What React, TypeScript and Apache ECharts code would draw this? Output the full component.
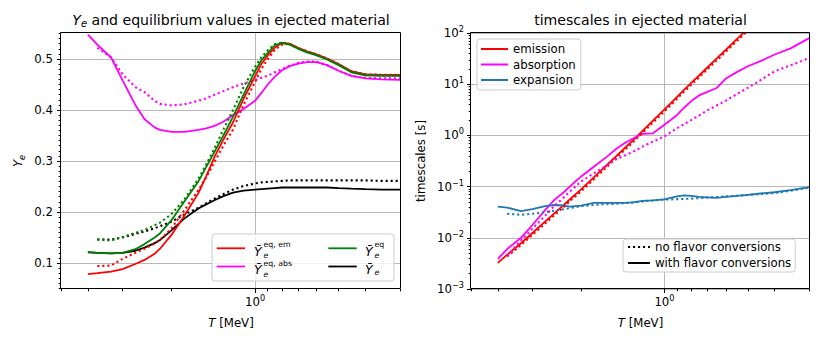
import React, { useEffect, useRef } from 'react';
import * as echarts from 'echarts';

// ---------------- data ----------------
// temperature grid (MeV), shared by all curves
const T = [4.0, 3.7, 3.3, 3.0, 2.7, 2.5, 2.3, 2.2, 2.0, 1.8, 1.6, 1.5, 1.4, 1.3, 1.2, 1.1, 1.0, 0.95, 0.9, 0.85, 0.8, 0.75, 0.7, 0.65, 0.6, 0.55, 0.5, 0.45, 0.4, 0.35, 0.3];

// left panel: Ye and equilibrium values (solid = with flavor conversions, dotted = without)
const yeEqEmWith = [0.078, 0.080, 0.083, 0.088, 0.098, 0.106, 0.118, 0.128, 0.155, 0.192, 0.237, 0.270, 0.308, 0.342, 0.376, 0.422, 0.466, 0.490, 0.507, 0.522, 0.532, 0.530, 0.522, 0.515, 0.509, 0.501, 0.490, 0.476, 0.470, 0.469, 0.469];
const yeEqEmNo = [null, 0.094, 0.095, 0.108, 0.120, 0.128, 0.138, 0.145, 0.168, 0.203, 0.243, 0.268, 0.298, 0.330, 0.362, 0.410, 0.455, 0.480, 0.500, 0.518, 0.528, 0.530, 0.522, 0.515, 0.509, 0.501, 0.490, 0.476, 0.470, 0.469, 0.469];
const yeEqAbsWith = [0.548, 0.528, 0.503, 0.458, 0.410, 0.382, 0.366, 0.361, 0.357, 0.357, 0.361, 0.364, 0.369, 0.377, 0.390, 0.402, 0.418, 0.433, 0.450, 0.465, 0.478, 0.486, 0.491, 0.494, 0.494, 0.488, 0.477, 0.467, 0.462, 0.460, 0.459];
const yeEqAbsNo = [null, 0.522, 0.503, 0.470, 0.445, 0.435, 0.418, 0.412, 0.409, 0.411, 0.418, 0.423, 0.430, 0.437, 0.445, 0.452, 0.459, 0.463, 0.467, 0.474, 0.480, 0.487, 0.492, 0.495, 0.495, 0.488, 0.477, 0.467, 0.463, 0.462, 0.462];
const yeEqWith = [0.122, 0.120, 0.119, 0.120, 0.127, 0.137, 0.150, 0.158, 0.184, 0.220, 0.260, 0.288, 0.318, 0.350, 0.387, 0.430, 0.476, 0.497, 0.512, 0.527, 0.531, 0.528, 0.520, 0.513, 0.507, 0.499, 0.488, 0.474, 0.468, 0.467, 0.467];
const yeEqNo = [null, 0.146, 0.144, 0.151, 0.159, 0.165, 0.174, 0.179, 0.196, 0.224, 0.265, 0.293, 0.325, 0.362, 0.400, 0.445, 0.485, 0.503, 0.517, 0.529, 0.532, 0.529, 0.521, 0.514, 0.508, 0.500, 0.489, 0.475, 0.469, 0.468, 0.467];
const yeWith = [0.121, 0.120, 0.119, 0.120, 0.124, 0.130, 0.139, 0.145, 0.164, 0.187, 0.207, 0.215, 0.223, 0.231, 0.238, 0.242, 0.244, 0.245, 0.246, 0.247, 0.248, 0.248, 0.248, 0.248, 0.248, 0.248, 0.247, 0.246, 0.245, 0.244, 0.244];
const yeNo = [null, 0.146, 0.146, 0.150, 0.157, 0.162, 0.168, 0.172, 0.181, 0.195, 0.208, 0.217, 0.226, 0.235, 0.244, 0.251, 0.256, 0.258, 0.259, 0.260, 0.261, 0.262, 0.262, 0.262, 0.262, 0.262, 0.262, 0.262, 0.262, 0.261, 0.261];

// right panel: timescales [s]
const emissionWith = [0.00324, 0.00468, 0.00783, 0.0124, 0.0207, 0.0299, 0.0447, 0.0559, 0.0883, 0.151, 0.276, 0.385, 0.548, 0.800, 1.22, 1.95, 3.22, 4.23, 5.68, 7.73, 10.6, 14.8, 21.2, 31.1, 47.1, 74.1, 120, 209, null, null, null];
const emissionNo = [null, 0.0043, 0.0072, 0.0114, 0.019, 0.0275, 0.041, 0.0515, 0.081, 0.139, 0.254, 0.354, 0.505, 0.736, 1.12, 1.79, 2.96, 3.89, 5.22, 7.11, 9.77, 13.6, 19.5, 28.6, 43.3, 68.2, 111, 200, null, null, null];
const absorptionWith = [0.00389, 0.00603, 0.0100, 0.0178, 0.0347, 0.0550, 0.0794, 0.100, 0.158, 0.245, 0.398, 0.537, 0.692, 0.871, 1.07, 1.10, 1.62, 2.00, 2.51, 3.47, 4.68, 6.03, 7.08, 8.32, 12.9, 17.0, 22.4, 28.2, 38.0, 50.1, 79.4];
const absorptionNo = [null, 0.00447, 0.0089, 0.0151, 0.0269, 0.0417, 0.063, 0.0794, 0.126, 0.182, 0.263, 0.339, 0.398, 0.479, 0.603, 0.759, 0.955, 1.15, 1.38, 1.66, 2.00, 2.45, 3.09, 3.80, 4.79, 6.31, 8.51, 12.0, 17.8, 23.4, 32.4];
const expansionWith = [0.0407, 0.0389, 0.0331, 0.0363, 0.0417, 0.0437, 0.0427, 0.0407, 0.0427, 0.0479, 0.0479, 0.0479, 0.0479, 0.049, 0.0525, 0.0537, 0.0562, 0.0603, 0.0646, 0.0676, 0.0661, 0.0631, 0.0617, 0.0603, 0.0631, 0.0661, 0.0692, 0.0733, 0.0776, 0.0851, 0.0977];
const expansionNo = [null, 0.0295, 0.0282, 0.0295, 0.0316, 0.0339, 0.0363, 0.038, 0.0417, 0.0437, 0.0457, 0.0462, 0.0473, 0.049, 0.0513, 0.0537, 0.0562, 0.0562, 0.0569, 0.0575, 0.0582, 0.0596, 0.061, 0.0624, 0.0646, 0.0661, 0.0684, 0.0716, 0.075, 0.0832, 0.0955];

// axis ranges and ticks
const T_MIN = 0.298;
const T_MAX = 5;
const YE_MIN = 0.049;
const YE_MAX = 0.551;
const TAU_MIN = 0.001;
const TAU_MAX = 100;
const xMajorTicks = [1];
const xMinorTicks = [0.3, 0.4, 0.5, 0.6, 0.7, 0.8, 0.9, 2, 3, 4, 5];
const yeMajorTicks = [0.1, 0.2, 0.3, 0.4, 0.5];
const tauMajorTicks = [0.001, 0.01, 0.1, 1, 10, 100];

const titleLeft = '{i|Y}{s|e} and equilibrium values in ejected material';
const titleRight = 'timescales in ejected material';
const legendRight = ['emission', 'absorption', 'expansion'];
const legendStyle = ['no flavor conversions', 'with flavor conversions'];

// ---------------- styles ----------------
const FONT = 'DejaVu Sans';
const FS = 11.75;
const RED = '#ff0000';
const MAGENTA = '#ff00ff';
const GREEN = '#008000';
const BLACK = '#000000';
const BLUE = '#1f77b4';
const GRIDC = '#b0b0b0';
const LW = 1.8;
const DOT_LW = 2.1;
const DOT: number[] = [2.1, 2.9];

const G0 = { left: 61, top: 33, width: 340, height: 256 };
const G1 = { left: 471, top: 33, width: 339, height: 256 };

const tickLine = { color: '#000', width: 1 };
const supRich = {
  b: { fontSize: FS, fontFamily: FONT, color: '#000', lineHeight: 16 },
  sup: { fontSize: 8.2, fontFamily: FONT, color: '#000', lineHeight: 8, verticalAlign: 'top' },
};
const expLabel = (v: number) => {
  const e = Math.round(v);
  const s = e < 0 ? '\u2212' + String(-e) : String(e);
  return '{b|10}{sup|' + s + '}';
};
const nameStyle = {
  fontFamily: FONT,
  fontSize: FS,
  color: '#000',
  lineHeight: 16,
  rich: {
    i: { fontFamily: FONT, fontSize: FS, fontStyle: 'italic', color: '#000', lineHeight: 16 },
    s: { fontFamily: FONT, fontSize: 8.2, fontStyle: 'italic', color: '#000', lineHeight: 9, verticalAlign: 'bottom' },
  },
};

const pairs = (xs: number[], ys: (number | null)[]) => xs.map((x, i) => [x, ys[i]]);

function lineSeries(name: string, ys: (number | null)[], color: string, dotted: boolean, xi: number, yi: number) {
  return {
    name,
    type: 'line',
    xAxisIndex: xi,
    yAxisIndex: yi,
    data: pairs(T, ys),
    symbol: 'none',
    showSymbol: false,
    color,
    lineStyle: { color, width: dotted ? DOT_LW : LW, type: dotted ? DOT : 'solid', cap: 'butt' },
    emphasis: { disabled: true },
    silent: true,
  };
}

function logXAxes(gridIndex: number) {
  const l0 = Math.log10(T_MIN);
  const l1 = Math.log10(T_MAX);
  return [
    { type: 'log', gridIndex, min: T_MIN, max: T_MAX, inverse: true, show: false, axisLine: { onZero: false } },
    {
      type: 'value', gridIndex, position: 'bottom', min: l0, max: l1, inverse: true,
      axisLine: { show: false, onZero: false },
      axisTick: { show: true, customValues: xMajorTicks.map(Math.log10), length: 4, lineStyle: tickLine },
      axisLabel: { show: true, customValues: xMajorTicks.map(Math.log10), formatter: expLabel, margin: 5, rich: supRich },
      splitLine: { show: true, lineStyle: { color: GRIDC, width: 0.9 } },
      name: '{i|T} [MeV]', nameLocation: 'middle', nameGap: 26, nameTextStyle: nameStyle,
    },
    {
      type: 'value', gridIndex, position: 'bottom', min: l0, max: l1, inverse: true,
      axisLine: { show: false, onZero: false },
      axisTick: { show: true, customValues: xMinorTicks.map(Math.log10), length: 2.3, lineStyle: tickLine },
      axisLabel: { show: false },
      splitLine: { show: false },
    },
  ];
}

function buildOption() {
  const yeMinor: number[] = [];
  for (let k = Math.ceil(YE_MIN * 100); k <= Math.floor(YE_MAX * 100); k++) {
    if (k % 10 !== 0) yeMinor.push(k / 100);
  }
  const tauMinor: number[] = [];
  for (let e = Math.log10(TAU_MIN); e < Math.log10(TAU_MAX); e++) {
    for (let m = 2; m <= 9; m++) tauMinor.push(Math.log10(m) + e);
  }

  const xAxes = [...logXAxes(0), ...logXAxes(1)];
  const yAxes = [
    {
      type: 'value', gridIndex: 0, position: 'left', min: YE_MIN, max: YE_MAX,
      axisLine: { show: false, onZero: false },
      axisTick: { show: true, customValues: yeMajorTicks, length: 4, lineStyle: tickLine },
      axisLabel: { show: true, customValues: yeMajorTicks, formatter: (v: number) => v.toFixed(1), margin: 8, fontFamily: FONT, fontSize: FS, color: '#000' },
      splitLine: { show: true, lineStyle: { color: GRIDC, width: 0.9 } },
      name: '{i|Y}{s|e}', nameLocation: 'middle', nameRotate: 90, nameGap: 35, nameTextStyle: nameStyle,
    },
    {
      type: 'value', gridIndex: 0, position: 'left', min: YE_MIN, max: YE_MAX,
      axisLine: { show: false, onZero: false },
      axisTick: { show: true, customValues: yeMinor, length: 2.3, lineStyle: tickLine },
      axisLabel: { show: false }, splitLine: { show: false },
    },
    { type: 'log', gridIndex: 1, position: 'left', min: TAU_MIN, max: TAU_MAX, show: false, axisLine: { onZero: false } },
    {
      type: 'value', gridIndex: 1, position: 'left', min: Math.log10(TAU_MIN), max: Math.log10(TAU_MAX),
      axisLine: { show: false, onZero: false },
      axisTick: { show: true, customValues: tauMajorTicks.map(Math.log10), length: 4, lineStyle: tickLine },
      axisLabel: { show: true, customValues: tauMajorTicks.map(Math.log10), formatter: expLabel, margin: 7, rich: supRich },
      splitLine: { show: true, lineStyle: { color: GRIDC, width: 0.9 } },
      name: 'timescales [s]', nameLocation: 'middle', nameRotate: 90, nameGap: 42, nameTextStyle: nameStyle,
    },
    {
      type: 'value', gridIndex: 1, position: 'left', min: Math.log10(TAU_MIN), max: Math.log10(TAU_MAX),
      axisLine: { show: false, onZero: false },
      axisTick: { show: true, customValues: tauMinor, length: 2.3, lineStyle: tickLine },
      axisLabel: { show: false }, splitLine: { show: false },
    },
  ];

  const series = [
    lineSeries('Ye_eq_abs no', yeEqAbsNo, MAGENTA, true, 0, 0),
    lineSeries('Ye_eq_abs', yeEqAbsWith, MAGENTA, false, 0, 0),
    lineSeries('Ye no', yeNo, BLACK, true, 0, 0),
    lineSeries('Ye', yeWith, BLACK, false, 0, 0),
    lineSeries('Ye_eq_em no', yeEqEmNo, RED, true, 0, 0),
    lineSeries('Ye_eq_em', yeEqEmWith, RED, false, 0, 0),
    lineSeries('Ye_eq no', yeEqNo, GREEN, true, 0, 0),
    lineSeries('Ye_eq', yeEqWith, GREEN, false, 0, 0),

    lineSeries('emission', emissionWith, RED, false, 3, 2),
    lineSeries('absorption', absorptionWith, MAGENTA, false, 3, 2),
    lineSeries('expansion', expansionWith, BLUE, false, 3, 2),
    lineSeries('emission no', emissionNo, RED, true, 3, 2),
    lineSeries('absorption no', absorptionNo, MAGENTA, true, 3, 2),
    lineSeries('expansion no', expansionNo, BLUE, true, 3, 2),
    { ...lineSeries(legendStyle[0], [], BLACK, true, 3, 2), data: [] },
    { ...lineSeries(legendStyle[1], [], BLACK, false, 3, 2), data: [] },
  ];

  const legendBox = {
    orient: 'vertical', selectedMode: false, itemHeight: 14,
    backgroundColor: 'rgba(255,255,255,0.8)', borderColor: '#cccccc', borderWidth: 1, borderRadius: 3,
    textStyle: { fontFamily: FONT, fontSize: FS, color: '#000' },
    itemStyle: { color: 'rgba(0,0,0,0)', borderColor: 'rgba(0,0,0,0)', borderWidth: 0, opacity: 0 },
  };

  const txt = (x: number, y: number, text: string, size: number, italic: boolean) => ({
    type: 'text', x, y, z: 50, silent: true,
    style: { text, fontSize: size, fontFamily: FONT, fontStyle: italic ? 'italic' : 'normal', fill: '#000', align: 'left', verticalAlign: 'middle' },
  });
  const seg = (x1: number, x2: number, y: number, color: string) => ({
    type: 'line', z: 50, silent: true, shape: { x1, y1: y, x2, y2: y }, style: { stroke: color, lineWidth: LW },
  });
  const frame = (g: { left: number; top: number; width: number; height: number }) => ({
    type: 'rect', z: 100, silent: true,
    shape: { x: g.left - 0.5, y: g.top - 0.5, width: g.width, height: g.height },
    style: { fill: 'none', stroke: '#000', lineWidth: 1 },
  });

  const BIG = 12.5;
  const SMALL = 7.8;
  const graphic = [
    frame(G0),
    frame(G1),
    { type: 'rect', z: 49, silent: true, shape: { x: 212, y: 234, width: 182, height: 47, r: 3 }, style: { fill: 'rgba(255,255,255,0.8)', stroke: '#cccccc', lineWidth: 1 } },
    seg(216.7, 245, 248.3, RED),
    seg(216.7, 245, 266.5, MAGENTA),
    seg(328.3, 356.7, 248.3, GREEN),
    seg(328.3, 356.7, 266.5, BLACK),
    txt(254, 251, '\u0232', BIG, true), txt(263.5, 244, 'eq, em', SMALL, false), txt(263.5, 255, 'e', SMALL, true),
    txt(254, 269, '\u0232', BIG, true), txt(263.5, 263.5, 'eq, abs', SMALL, false), txt(263.5, 274, 'e', SMALL, true),
    txt(365, 251, '\u0232', BIG, true), txt(374.5, 244, 'eq', SMALL, false), txt(374.5, 255, 'e', SMALL, true),
    txt(365, 269, '\u0232', BIG, true), txt(374.5, 272.5, 'e', SMALL, true),
  ];

  const titleStyle = {
    fontFamily: FONT, fontSize: 14.1, fontWeight: 'normal', color: '#000', lineHeight: 17,
    rich: {
      i: { fontFamily: FONT, fontSize: 14.1, fontStyle: 'italic', color: '#000', lineHeight: 17 },
      s: { fontFamily: FONT, fontSize: 9.9, fontStyle: 'italic', color: '#000', lineHeight: 10, verticalAlign: 'bottom' },
    },
  };

  return {
    animation: false,
    backgroundColor: '#ffffff',
    textStyle: { fontFamily: FONT },
    title: [
      { text: titleLeft, left: G0.left + G0.width / 2, top: 11.5, textAlign: 'center', padding: 0, textStyle: titleStyle },
      { text: titleRight, left: G1.left + G1.width / 2, top: 11.5, textAlign: 'center', padding: 0, textStyle: titleStyle },
    ],
    grid: [
      { ...G0, containLabel: false },
      { ...G1, containLabel: false },
    ],
    legend: [
      { ...legendBox, data: legendRight, left: 477, top: 39, padding: [4, 5, 4, 3], itemWidth: 27, itemGap: 3.5, itemTextGap: 7 },
      { ...legendBox, data: legendStyle, left: 623, top: 239, padding: [2, 4, 3, 4], itemWidth: 22, itemGap: 4, itemTextGap: 8 },
    ],
    xAxis: xAxes,
    yAxis: yAxes,
    series,
    graphic,
  };
}

export default function App() {
  const ref = useRef<HTMLDivElement>(null);
  useEffect(() => {
    document.body.style.margin = '0';
    const chart = echarts.init(ref.current as HTMLDivElement, null, { renderer: 'svg' });
    chart.setOption(buildOption() as any);
    return () => chart.dispose();
  }, []);
  return <div ref={ref} style={{ width: 823, height: 348, background: '#fff' }} />;
}
